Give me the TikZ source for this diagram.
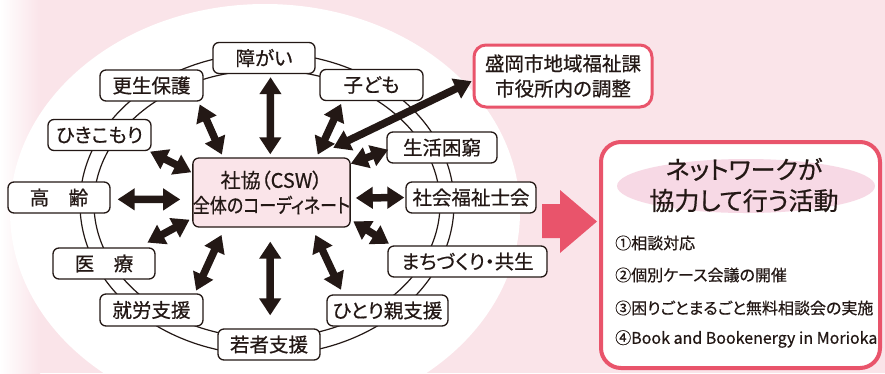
\documentclass[tikz,border=0pt]{standalone}
\usepackage{fontspec}
\setmainfont{Noto Sans CJK JP}[RawFeature=+palt, FakeBold=0.6]
\usepackage{xcolor}
\usepackage{graphicx}
\usetikzlibrary{arrows.meta}
\definecolor{inkBrown}{HTML}{231815}
\definecolor{bgPink}{HTML}{FAE4E9}
\definecolor{netRed}{HTML}{E9546B}
\definecolor{titlePink}{HTML}{F7D9E5}
\newcommand\hubColor{bgPink}

\tikzset{
  topic/.style={draw=inkBrown, line width=1.3pt, fill=white, rounded corners=6pt,
    minimum height=31pt, inner sep=0pt, text=inkBrown, font=\fontsize{19.5}{22}\selectfont},
  link/.style={inkBrown, line width=7.5pt,
    {Triangle[width=21pt,length=17pt]}-{Triangle[width=21pt,length=17pt]},
    shorten <=3pt, shorten >=3pt},
  item/.style={anchor=west, inner sep=0pt, text=inkBrown, font=\fontsize{16}{18}\selectfont},
}

\begin{document}
\begin{tikzpicture}[x=1pt, y=-1pt]
    \useasboundingbox (0,0) rectangle (885,373);
    \clip (0,0) rectangle (885,373);
    \fill[bgPink] (0,0) rectangle (885,373);
    \shade[left color=white, right color=bgPink] (0,0) rectangle (40,373);
    \fill[white] (265,212) ellipse [x radius=255pt, y radius=208pt];

    \draw[inkBrown, line width=1.2pt] (267,204) ellipse [x radius=187pt, y radius=151pt];
    \draw[inkBrown, line width=1.2pt] (267,204) ellipse [x radius=173pt, y radius=134pt];

    \node[topic, fill=\hubColor, minimum width=147pt, minimum height=69pt, align=center,
      font=\fontsize{20}{25}\selectfont] (hub) at (271.5,192.5)
      {社協（CSW）\\\scalebox{0.85}[1]{全体のコーディネート}};

    \node[topic, minimum width=102pt] (shogai) at (264,58) {障がい};
    \node[topic, minimum width=103pt] (kosei) at (151.5,85.5) {更生保護};
    \node[topic, minimum width=103pt] (kodomo) at (371.5,85) {子ども};
    \node[topic, minimum width=103pt] (hiki) at (99.5,135) {ひきこもり};
    \node[topic, minimum width=110pt] (seikatsu) at (442,147.5) {生活困窮};
    \node[topic, minimum width=102pt] (korei) at (59,197.5) {高　齢};
    \node[topic, minimum width=130pt] (shafuku) at (471,197.5) {社会福祉士会};
    \node[topic, minimum width=102pt] (iryo) at (104,263.5) {医　療};
    \node[topic, minimum width=159pt] (machi) at (467.5,261.5) {まちづくり・共生};
    \node[topic, minimum width=103pt, minimum height=32pt] (shuro) at (151.5,310) {就労支援};
    \node[topic, minimum width=121pt] (hitori) at (387.5,310.5) {ひとり親支援};
    \node[topic, minimum width=102pt] (wakamono) at (269,344.5) {若者支援};

    \node[topic, draw=netRed, line width=3pt, rounded corners=12pt, minimum width=178pt,
      minimum height=62pt, align=center, font=\fontsize{19.5}{25}\selectfont]
      (shiyakusho) at (563,76) {盛岡市地域福祉課\\市役所内の調整};

    \draw[link] (hub.92) -- (shogai.292);
    \draw[link] (hub.144) -- (kosei.341);
    \draw[link] (hub.38) -- (kodomo.209);
    \draw[link, shorten <=1pt, shorten >=1pt] (hub.166) -- (hiki.342);
    \draw[link, shorten <=0pt, shorten >=-2pt] (hub.20) -- (seikatsu.183);
    \draw[link, shorten <=12pt, shorten >=7pt] (hub.185) -- (korei.358);
    \draw[link, shorten <=5pt, shorten >=1pt] (hub.356) -- (shafuku.180);
    \draw[link, shorten >=10pt] (hub.198) -- (iryo.25);
    \draw[link] (hub.341) -- (machi.168);
    \draw[link, shorten <=8pt] (hub.217) -- (shuro.21);
    \draw[link, shorten <=14pt, shorten >=13pt] (hub.268) -- (wakamono.86);
    \draw[link, shorten <=8pt, shorten >=5pt] (hub.319) -- (hitori.160);
    \draw[link, shorten <=22pt, shorten >=1pt] (hub.40) -- (shiyakusho.183);

    \fill[netRed] (542,204) -- (560,204) -- (560,190) -- (597,221.5)
      -- (560,253) -- (560,238) -- (542,238) -- cycle;

    \node[draw=netRed, line width=4pt, rounded corners=20pt, fill=white,
      minimum width=279pt, minimum height=226pt] (network) at (740.5,255) {};
    \fill[titlePink] (746,186) ellipse [x radius=129pt, y radius=27pt];
    \node[align=center, text=inkBrown, font=\fontsize{25}{31}\selectfont] (title) at (744,185)
      {ネットワークが\\協力して行う活動};
    \node[item] (act1) at (615,243) {①相談対応};
    \node[item] (act2) at (615,275) {②個別ケース会議の開催};
    \node[item] (act3) at (615,308) {③困りごとまるごと無料相談会の実施};
    \node[item] (act4) at (615,339) {④Book and Bookenergy in Morioka};
\end{tikzpicture}
\end{document}
